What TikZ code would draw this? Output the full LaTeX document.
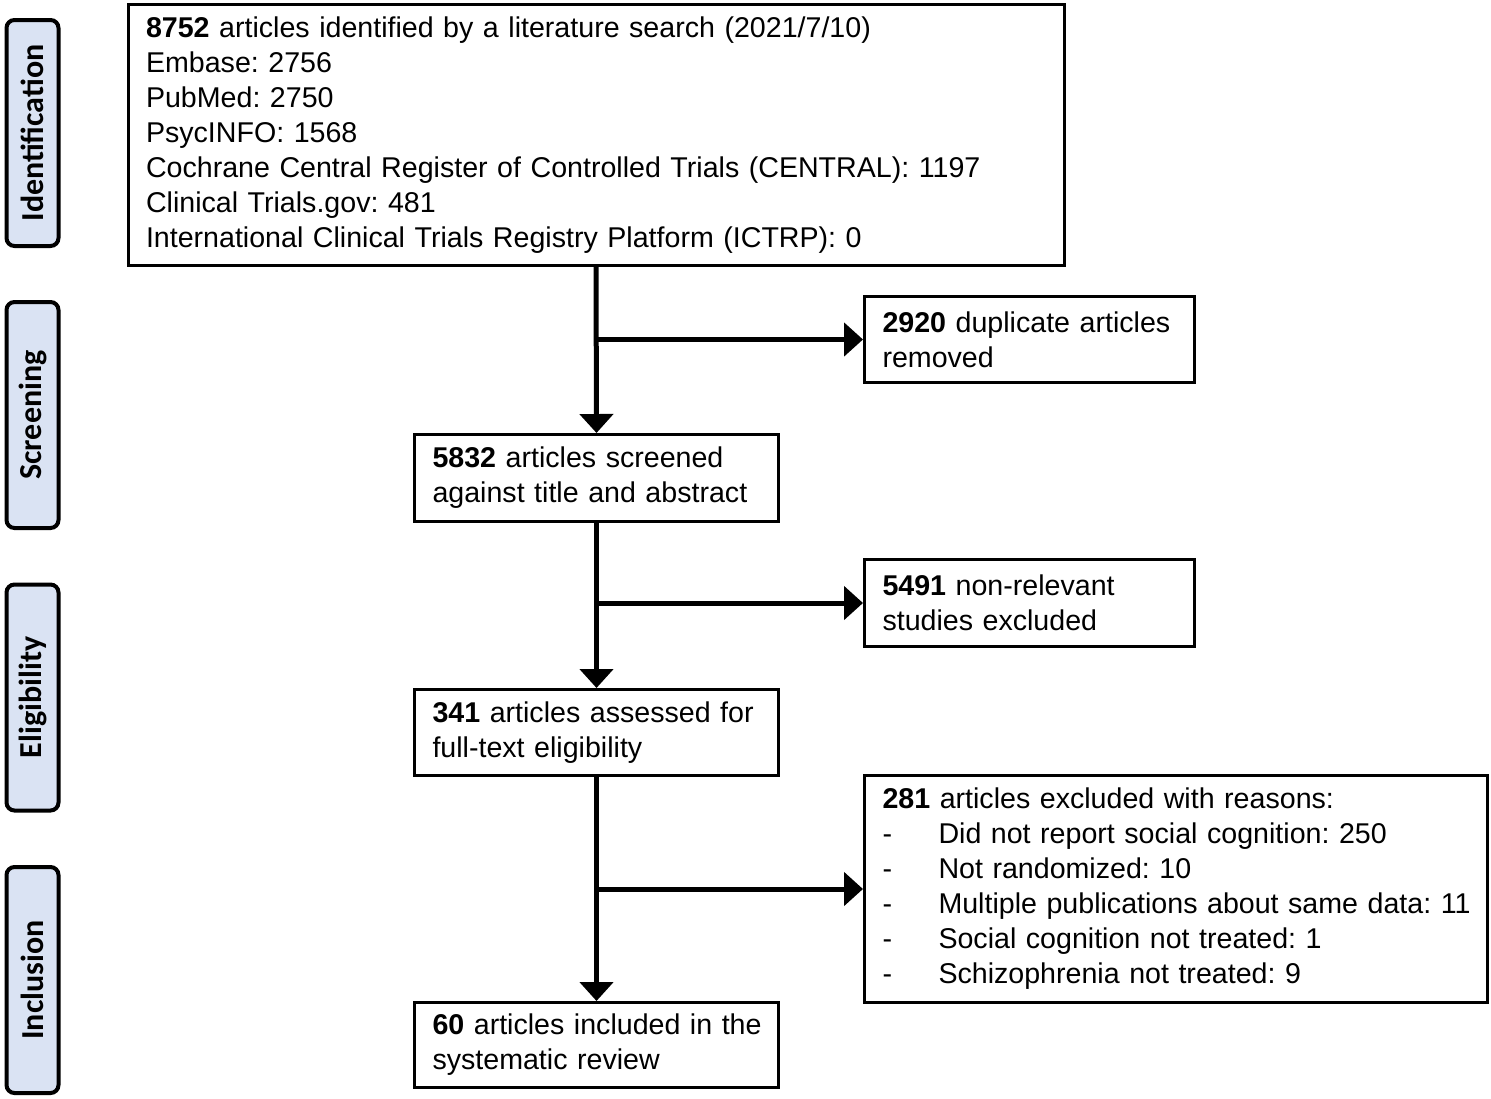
\documentclass[tikz,border=0pt]{standalone}
\usepackage{fontspec}
\setmainfont{Liberation Sans}
\newfontfamily\labfont{Carlito}
\usetikzlibrary{arrows.meta}
\definecolor{labfill}{HTML}{DAE3F3}
\frenchspacing
\newcommand{\itm}[1]{\mbox{\makebox[28pt][l]{-}#1}}
\tikzset{
  box/.style={draw, line width=1.5pt, inner xsep=9pt, inner ysep=0pt, align=left,
    font=\frenchspacing\fontsize{14.3}{17.5}\selectfont},
  stage/.style={draw, line width=2pt, fill=labfill, rounded corners=4pt, rotate=90,
    minimum width=113pt, minimum height=26pt, inner sep=0pt,
    font=\labfont\bfseries\fontsize{16}{18}\selectfont},
  conn/.style={line width=2.5pt, -{Triangle[length=9.5pt,width=16.5pt]}}
}
\begin{document}
\begin{tikzpicture}[x=0.5pt,y=-0.5pt]
\useasboundingbox (0,0) rectangle (1491,1098);
% stage labels
\node[stage] (sid) at (32.5,133) {Identification};
\node[stage] (ssc) at (32.5,415) {Screening};
\node[stage] (sel) at (32.5,697.5) {Eligibility};
\node[stage] (sin) at (32.5,980) {Inclusion};
% boxes
\node[box, text width=450pt, minimum height=130.5pt] (b1) at (596,135) {%
\mbox{\textbf{8752} articles identified by a literature search (2021/7/10)}\\
Embase: 2756\\
PubMed: 2750\\
PsycINFO: 1568\\
\mbox{Cochrane Central Register of Controlled Trials (CENTRAL): 1197}\\
Clinical Trials.gov: 481\\
\mbox{International Clinical Trials Registry Platform (ICTRP): 0}};
\node[box, text width=147pt, minimum height=43pt] (b2) at (1029.5,339.5) {%
\mbox{\textbf{2920} duplicate articles}\\removed};
\node[box, text width=164pt, minimum height=43.5pt] (b3) at (596.5,478) {%
\mbox{\textbf{5832} articles screened}\\\mbox{against title and abstract}};
\node[box, text width=147pt, minimum height=43.5pt] (b4) at (1029.5,603) {%
\mbox{\textbf{5491} non-relevant}\\\mbox{studies excluded}};
\node[box, text width=164pt, minimum height=43pt] (b5) at (596.5,732.5) {%
\mbox{\textbf{341} articles assessed for}\\\mbox{full-text eligibility}};
\node[box, text width=293.5pt, minimum height=113.5pt] (b6) at (1176,889) {%
\mbox{\textbf{281} articles excluded with reasons:}\\
\itm{Did not report social cognition: 250}\\
\itm{Not randomized: 10}\\
\itm{Multiple publications about same data: 11}\\
\itm{Social cognition not treated: 1}\\
\itm{Schizophrenia not treated: 9}};
\node[box, text width=164pt, minimum height=42.5pt] (b7) at (596.5,1045) {%
\mbox{\textbf{60} articles included in the}\\\mbox{systematic review}};
% connectors
\draw[conn] (b1.south) -- (b3.north);
\draw[conn] (b1.south |- b2.west) -- (b2.west);
\draw[conn] (b3.south) -- (b5.north);
\draw[conn] (b3.south |- b4.west) -- (b4.west);
\draw[conn] (b5.south) -- (b7.north);
\draw[conn] (b5.south |- b6.west) -- (b6.west);
\end{tikzpicture}
\end{document}
